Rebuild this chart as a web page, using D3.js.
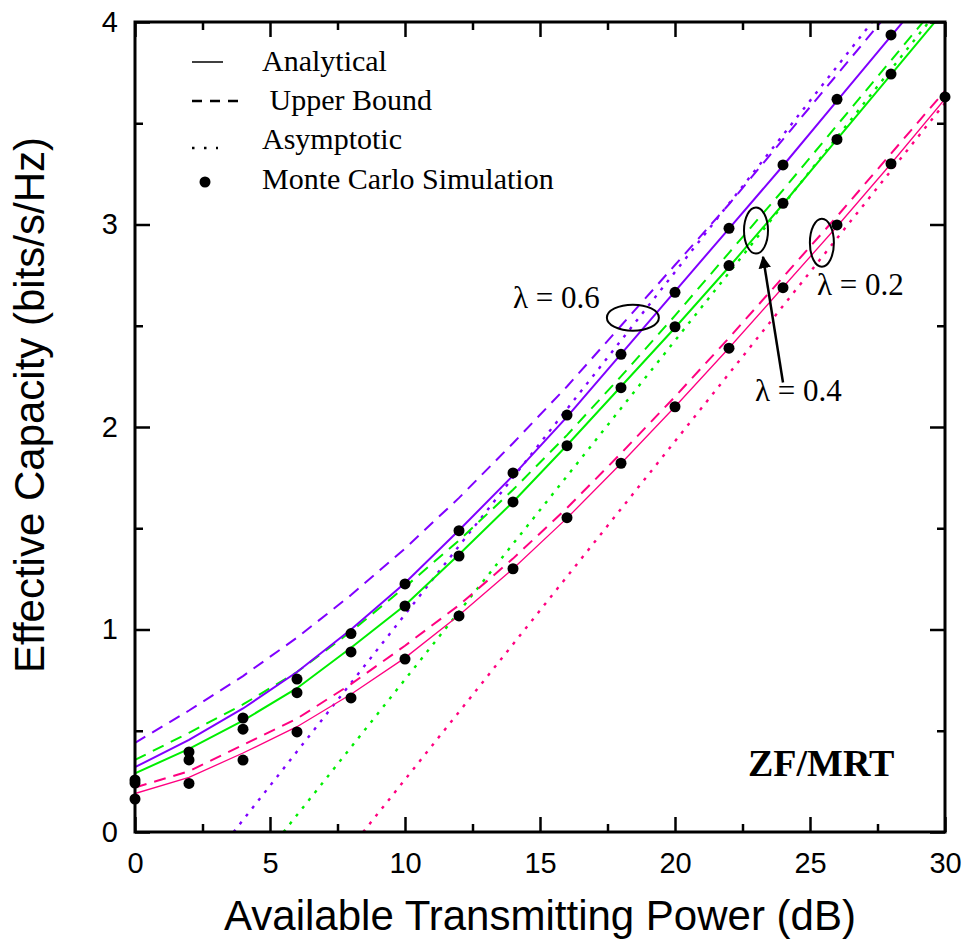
<!DOCTYPE html>
<html>
<head>
<meta charset="utf-8">
<script src="https://cdn.jsdelivr.net/npm/d3@7"></script>
<style>
  body { margin: 0; background: #fff; }
  svg { display: block; }
</style>
</head>
<body>
<div id="chart"></div>
<script>
// values
var powerDb = [0, 2, 4, 6, 8, 10, 12, 14, 16, 18, 20, 22, 24, 26, 28, 30];

var analytical06 = [0.32, 0.455, 0.61, 0.79, 1.0, 1.23, 1.49, 1.76, 2.05, 2.36, 2.67, 2.98, 3.29, 3.61, 3.93, 4.25];
var analytical04 = [0.29, 0.41, 0.55, 0.71, 0.91, 1.12, 1.37, 1.63, 1.91, 2.20, 2.49, 2.79, 3.10, 3.42, 3.74, 4.06];
var analytical02 = [0.19, 0.27, 0.39, 0.52, 0.68, 0.86, 1.07, 1.30, 1.55, 1.82, 2.10, 2.39, 2.69, 2.99, 3.30, 3.62];

var upper06 = [0.44, 0.60, 0.77, 0.96, 1.17, 1.40, 1.65, 1.92, 2.20, 2.50, 2.80, 3.10, 3.42, 3.74, 4.06, 4.38];
var upper04 = [0.356, 0.49, 0.63, 0.79, 0.99, 1.21, 1.44, 1.69, 1.96, 2.25, 2.55, 2.86, 3.17, 3.49, 3.81, 4.13];
var upper02 = [0.22, 0.30, 0.43, 0.56, 0.73, 0.92, 1.12, 1.35, 1.60, 1.87, 2.15, 2.44, 2.74, 3.04, 3.35, 3.66];

// asymptotes are straight lines: [power, capacity] end points
var asym06 = [[3.65, 0], [27.3, 4]];
var asym04 = [[5.5, 0], [29.4, 4]];
var asym02 = [[8.45, 0], [30, 3.6]];

var mc06 = [0.257, 0.395, 0.563, 0.755, 0.98, 1.225, 1.488, 1.773, 2.059, 2.359, 2.665, 2.981, 3.294, 3.618, 3.936];
var mc04 = [0.242, 0.356, 0.508, 0.688, 0.889, 1.116, 1.363, 1.63, 1.908, 2.194, 2.495, 2.797, 3.105, 3.42, 3.743];
var mc02 = [0.163, 0.24, 0.355, 0.494, 0.662, 0.854, 1.067, 1.30, 1.552, 1.821, 2.10, 2.389, 2.688, 2.998, 3.30, 3.63];

var xMajor = [0, 5, 10, 15, 20, 25, 30];
var xMinor = [2.5, 7.5, 12.5, 17.5, 22.5, 27.5];
var yMajor = [0, 1, 2, 3, 4];
var yMinor = [0.5, 1.5, 2.5, 3.5];

var legendLabels = ["Analytical", " Upper Bound", "Asymptotic", "Monte Carlo Simulation"];

var purple = "#8000ff", green = "#00ee00", pink = "#ff0080";

var width = 963, height = 943;
var plotLeft = 135, plotRight = 945, plotTop = 22, plotBottom = 832;

var svg = d3.select("#chart").append("svg")
    .attr("width", width)
    .attr("height", height);

var x = d3.scaleLinear().domain([0, 30]).range([plotLeft, plotRight]);
var y = d3.scaleLinear().domain([0, 4]).range([plotBottom, plotTop]);

svg.append("clipPath").attr("id", "plotclip")
  .append("rect")
    .attr("x", plotLeft).attr("y", plotTop)
    .attr("width", plotRight - plotLeft).attr("height", plotBottom - plotTop);

var line = d3.line()
    .x(function(d) { return x(d[0]); })
    .y(function(d) { return y(d[1]); });

function pairs(vals) {
  return vals.map(function(v, i) { return [powerDb[i], v]; });
}

var series = [
  { pts: asym06, color: purple, w: 2.4, dash: "3,7" },
  { pts: asym04, color: green, w: 2.4, dash: "3,7" },
  { pts: asym02, color: pink, w: 2.4, dash: "3,7" },
  { pts: pairs(upper06), color: purple, w: 2, dash: "12,8" },
  { pts: pairs(upper04), color: green, w: 2, dash: "12,8" },
  { pts: pairs(upper02), color: pink, w: 2, dash: "12,8" },
  { pts: pairs(analytical06), color: purple, w: 2, dash: null },
  { pts: pairs(analytical04), color: green, w: 2, dash: null },
  { pts: pairs(analytical02), color: pink, w: 1.3, dash: null }
];

var plot = svg.append("g").attr("clip-path", "url(#plotclip)");

plot.selectAll("path.curve")
  .data(series)
  .enter().append("path")
    .attr("class", "curve")
    .attr("d", function(d) { return line(d.pts); })
    .attr("fill", "none")
    .attr("stroke", function(d) { return d.color; })
    .attr("stroke-width", function(d) { return d.w; })
    .attr("stroke-dasharray", function(d) { return d.dash; });

// axes, ticks pointing inwards
function styleAxis(g) {
  g.select(".domain").remove();
  g.selectAll(".tick line").attr("stroke", "#000").attr("stroke-width", 2.5);
  g.selectAll(".tick text")
    .attr("font-family", "Liberation Sans, Arial, sans-serif")
    .attr("font-size", 29)
    .attr("fill", "#000");
}

svg.append("g").attr("transform", "translate(0," + plotBottom + ")")
    .call(d3.axisBottom(x).tickValues(xMajor).tickSize(-15).tickPadding(20).tickFormat(d3.format("d")))
    .call(styleAxis);
svg.append("g").attr("transform", "translate(0," + plotBottom + ")")
    .call(d3.axisBottom(x).tickValues(xMinor).tickSize(-8).tickFormat(""))
    .call(styleAxis);
svg.append("g").attr("transform", "translate(0," + plotTop + ")")
    .call(d3.axisTop(x).tickValues(xMajor).tickSize(-15).tickFormat(""))
    .call(styleAxis);
svg.append("g").attr("transform", "translate(0," + plotTop + ")")
    .call(d3.axisTop(x).tickValues(xMinor).tickSize(-8).tickFormat(""))
    .call(styleAxis);

svg.append("g").attr("transform", "translate(" + plotLeft + ",0)")
    .call(d3.axisLeft(y).tickValues(yMajor).tickSize(-15).tickPadding(17).tickFormat(d3.format("d")))
    .call(styleAxis);
svg.append("g").attr("transform", "translate(" + plotLeft + ",0)")
    .call(d3.axisLeft(y).tickValues(yMinor).tickSize(-8).tickFormat(""))
    .call(styleAxis);
svg.append("g").attr("transform", "translate(" + plotRight + ",0)")
    .call(d3.axisRight(y).tickValues(yMajor).tickSize(-15).tickFormat(""))
    .call(styleAxis);
svg.append("g").attr("transform", "translate(" + plotRight + ",0)")
    .call(d3.axisRight(y).tickValues(yMinor).tickSize(-8).tickFormat(""))
    .call(styleAxis);

svg.append("rect")
    .attr("x", plotLeft).attr("y", plotTop)
    .attr("width", plotRight - plotLeft).attr("height", plotBottom - plotTop)
    .attr("fill", "none")
    .attr("stroke", "#000")
    .attr("stroke-width", 3);

// Monte Carlo points
var dots = [].concat(pairs(mc06), pairs(mc04), pairs(mc02));
svg.append("g").selectAll("circle")
  .data(dots)
  .enter().append("circle")
    .attr("cx", function(d) { return x(d[0]); })
    .attr("cy", function(d) { return y(d[1]); })
    .attr("r", 5.5)
    .attr("fill", "#000");

// axis titles
svg.append("text")
    .attr("x", (plotLeft + plotRight) / 2)
    .attr("y", 930)
    .attr("text-anchor", "middle")
    .attr("font-family", "Liberation Sans, Arial, sans-serif")
    .attr("font-size", 42)
    .text("Available Transmitting Power (dB)");

svg.append("text")
    .attr("transform", "translate(44," + 405 + ") rotate(-90)")
    .attr("text-anchor", "middle")
    .attr("font-family", "Liberation Sans, Arial, sans-serif")
    .attr("font-size", 42)
    .text("Effective Capacity (bits/s/Hz)");

// legend
var serif = "Liberation Serif, Times New Roman, serif";
var legend = svg.append("g").attr("transform", "translate(192,0)");
var rowY = [62, 101, 140, 180];

legend.selectAll("text")
  .data(legendLabels)
  .enter().append("text")
    .attr("x", 70)
    .attr("y", function(d, i) { return rowY[i] + 9; })
    .attr("font-family", serif)
    .attr("font-size", 30)
    .style("white-space", "pre")
    .text(function(d) { return d; });

legend.append("line").attr("x1", 0).attr("x2", 31).attr("y1", rowY[0]).attr("y2", rowY[0])
    .attr("stroke", "#000").attr("stroke-width", 1.5);
legend.append("line").attr("x1", 0).attr("x2", 46).attr("y1", rowY[1]).attr("y2", rowY[1])
    .attr("stroke", "#000").attr("stroke-width", 2.5).attr("stroke-dasharray", "10,8");
legend.append("line").attr("x1", 0).attr("x2", 26).attr("y1", rowY[2] + 8).attr("y2", rowY[2] + 8)
    .attr("stroke", "#000").attr("stroke-width", 2.5).attr("stroke-dasharray", "2.5,9.5");
legend.append("circle").attr("cx", 13).attr("cy", rowY[3] + 2).attr("r", 5.5).attr("fill", "#000");

// annotations
svg.append("text")
    .attr("x", 748).attr("y", 776)
    .attr("font-family", serif)
    .attr("font-weight", "bold")
    .attr("font-size", 38)
    .text("ZF/MRT");

var notes = [
  { text: "λ = 0.6", px: 14.0, cap: 2.59 },
  { text: "λ = 0.4", px: 22.96, cap: 2.13 },
  { text: "λ = 0.2", px: 25.26, cap: 2.65 }
];
svg.append("g").selectAll("text")
  .data(notes)
  .enter().append("text")
    .attr("x", function(d) { return x(d.px); })
    .attr("y", function(d) { return y(d.cap); })
    .attr("font-family", serif)
    .attr("font-size", 31)
    .text(function(d) { return d.text; });

var rings = [
  { px: 18.44, cap: 2.54, rx: 26, ry: 13 },
  { px: 23.0, cap: 2.97, rx: 12, ry: 23 },
  { px: 25.44, cap: 2.91, rx: 12, ry: 24 }
];
svg.append("g").selectAll("ellipse")
  .data(rings)
  .enter().append("ellipse")
    .attr("cx", function(d) { return x(d.px); })
    .attr("cy", function(d) { return y(d.cap); })
    .attr("rx", function(d) { return d.rx; })
    .attr("ry", function(d) { return d.ry; })
    .attr("fill", "none")
    .attr("stroke", "#000")
    .attr("stroke-width", 2);

svg.append("defs").append("marker")
    .attr("id", "arrowhead")
    .attr("viewBox", "0 0 10 10")
    .attr("refX", 9).attr("refY", 5)
    .attr("markerWidth", 5).attr("markerHeight", 6)
    .attr("markerUnits", "strokeWidth")
    .attr("orient", "auto")
  .append("path")
    .attr("d", "M0,0L10,5L0,10z")
    .attr("fill", "#000");

svg.append("line")
    .attr("x1", x(24.0)).attr("y1", y(2.22))
    .attr("x2", x(23.26)).attr("y2", y(2.84))
    .attr("stroke", "#000")
    .attr("stroke-width", 2.5)
    .attr("marker-end", "url(#arrowhead)");
</script>
</body>
</html>
